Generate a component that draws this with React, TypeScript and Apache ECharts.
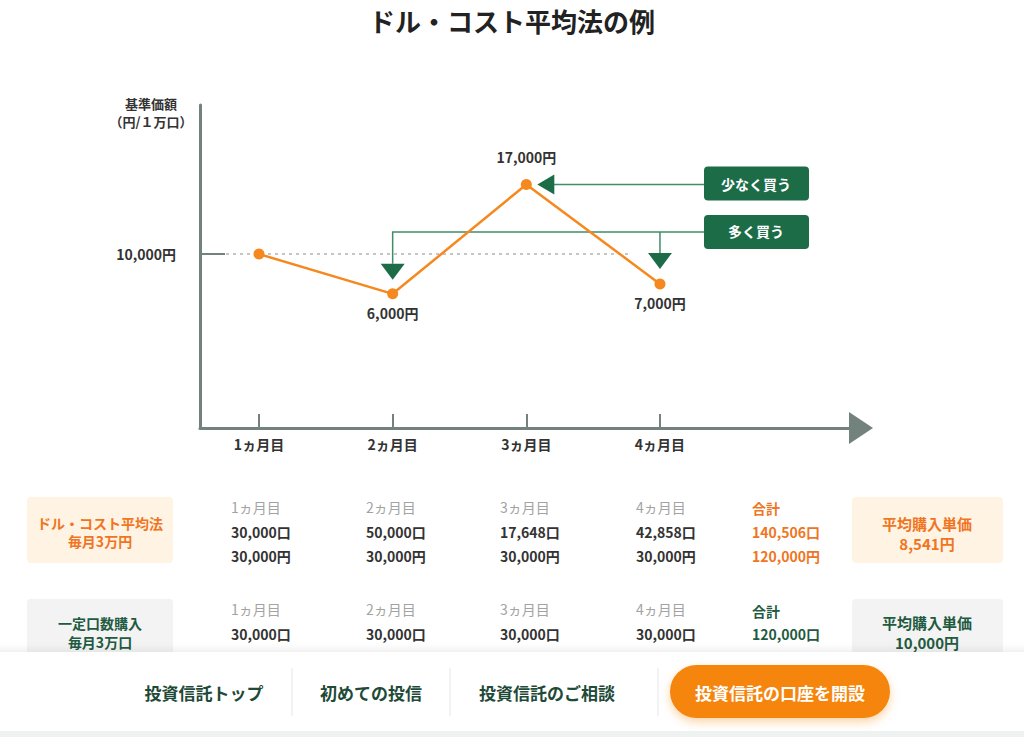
import React, { useEffect, useRef } from 'react';
import * as echarts from 'echarts';

// ---------- data ----------
const title = 'ドル・コスト平均法の例';
const yAxisName = ['基準価額', '（円/１万口）'];
const months = [1, 2, 3, 4];
const monthLabels = ['1ヵ月目', '2ヵ月目', '3ヵ月目', '4ヵ月目'];
const prices = [10000, 6000, 17000, 7000];
const priceLabelPos = ['none', 'bottom', 'top', 'bottom'];
const referencePrice = 10000;
const buyLess = '少なく買う';
const buyMore = '多く買う';

const dcaName = ['ドル・コスト平均法', '毎月3万円'];
const dcaUnits = [30000, 50000, 17648, 42858];
const dcaAmounts = [30000, 30000, 30000, 30000];
const dcaTotalUnits = 140506;
const dcaTotalAmount = 120000;
const dcaAvg = 8541;

const fixedName = ['一定口数購入', '毎月3万口'];
const fixedUnits = [30000, 30000, 30000, 30000];
const fixedTotalUnits = 120000;
const fixedAvg = 10000;

const totalLabel = '合計';
const avgLabel = '平均購入単価';
const navItems = ['投資信託トップ', '初めての投信', '投資信託のご相談'];
const navCta = '投資信託の口座を開設';

// ---------- styles ----------
const FONT = '"Noto Sans CJK JP", "Noto Sans", sans-serif';
const AXIS = '#73827d';
const ORANGE = '#f5891f';
const ORANGE_TXT = '#f07522';
const GREEN = '#1c6c48';
const GREEN_LINE = '#3f8c6b';
const GREEN_TXT = '#1f5a41';
const fmt = (n: number) => n.toLocaleString('en-US');

const txt = (x: number, y: number, text: string, o: any = {}) => ({
  type: 'text',
  x,
  y,
  z: o.z ?? 5,
  style: {
    text,
    fontFamily: FONT,
    fontSize: o.fontSize ?? 14,
    fontWeight: o.fontWeight ?? 'bold',
    fill: o.fill ?? '#333',
    align: o.align ?? 'left',
    textAlign: o.align ?? 'left',
    verticalAlign: 'middle',
    textVerticalAlign: 'middle',
  },
});

export default function App() {
  const ref = useRef<HTMLDivElement>(null);
  useEffect(() => {
    if (!ref.current) return;
    const chart = echarts.init(ref.current, null, { renderer: 'svg' });
    const option: any = {
      animation: false,
      backgroundColor: '#ffffff',
      textStyle: { fontFamily: FONT },
      title: {
        text: title,
        left: 'center',
        top: 2,
        textStyle: { fontSize: 26, fontWeight: 'bold', color: '#222', fontFamily: FONT },
      },
      grid: { left: 200, top: 105, width: 661, height: 323 },
      xAxis: {
        type: 'value',
        min: 0.5586,
        max: 5.504,
        axisLine: {
          onZero: false,
          lineStyle: { color: AXIS, width: 3 },
          symbol: ['none', 'triangle'],
          symbolSize: [32, 24],
        },
        axisTick: { customValues: months, inside: true, length: 14, lineStyle: { color: AXIS, width: 2 } },
        axisLabel: {
          customValues: months,
          formatter: (v: number) => monthLabels[Math.round(v) - 1],
          margin: 9,
          fontSize: 14,
          fontWeight: 'bold',
          color: '#333',
          fontFamily: FONT,
        },
        splitLine: { show: false },
      },
      yAxis: {
        type: 'value',
        min: -7500,
        max: 25000,
        axisLine: { show: true, onZero: false, lineStyle: { color: AXIS, width: 3 } },
        axisTick: { customValues: [referencePrice], inside: true, length: 25, lineStyle: { color: AXIS, width: 2 } },
        axisLabel: {
          customValues: [referencePrice],
          formatter: (v: number) => fmt(v) + '円',
          margin: 24,
          fontSize: 14,
          fontWeight: 'bold',
          color: '#333',
          fontFamily: FONT,
        },
        splitLine: { show: false },
      },
      series: [
        {
          type: 'line',
          z: 3,
          data: months.map((m, i) => ({
            value: [m, prices[i]],
            label:
              priceLabelPos[i] === 'none'
                ? { show: false }
                : { show: true, position: priceLabelPos[i], distance: priceLabelPos[i] === 'top' ? 15 : 7 },
          })),
          symbol: 'circle',
          symbolSize: 11,
          itemStyle: { color: ORANGE },
          lineStyle: { color: ORANGE, width: 2.5 },
          label: {
            formatter: (p: any) => fmt(p.value[1]) + '円',
            fontSize: 14,
            fontWeight: 'bold',
            color: '#333',
            fontFamily: FONT,
          },
        },
      ],
    };
    chart.setOption(option);

    const pt = (i: number) => chart.convertToPixel({ gridIndex: 0 }, [months[i], prices[i]]) as number[];
    const refY = (chart.convertToPixel({ gridIndex: 0 }, [months[0], referencePrice]) as number[])[1];
    const els: any[] = [];

    // y axis name
    els.push(txt(151, 103, yAxisName[0], { align: 'center', fontSize: 13 }));
    els.push(txt(151, 121, yAxisName[1], { align: 'center', fontSize: 13 }));

    // dotted reference line
    els.push({
      type: 'line',
      z: 1,
      shape: { x1: 226, y1: refY, x2: pt(3)[0] - 32, y2: refY },
      style: { stroke: '#b3b3b3', lineWidth: 1.5, lineDash: [3, 4] },
    });

    // buy-less annotation
    const p2 = pt(2);
    const boxX = 704;
    const tipX = p2[0] + 11;
    els.push({
      type: 'line', z: 1,
      shape: { x1: tipX + 16, y1: p2[1], x2: boxX, y2: p2[1] },
      style: { stroke: GREEN_LINE, lineWidth: 1.5 },
    });
    els.push({
      type: 'polygon', z: 1,
      shape: { points: [[tipX, p2[1]], [tipX + 17, p2[1] - 10], [tipX + 17, p2[1] + 10]] },
      style: { fill: GREEN },
    });
    els.push({
      type: 'rect', z: 4,
      shape: { x: boxX, y: p2[1] - 18, width: 105, height: 34, r: 4 },
      style: { fill: GREEN },
    });
    els.push(txt(boxX + 52, p2[1] - 1, buyLess, { align: 'center', fill: '#fff', fontSize: 14 }));

    // buy-more annotation
    const lineY = 232;
    const p1 = pt(1);
    const p3 = pt(3);
    els.push({
      type: 'polyline', z: 1,
      shape: { points: [[boxX, lineY], [p1[0], lineY], [p1[0], p1[1] - 30]] },
      style: { stroke: GREEN_LINE, lineWidth: 1.5, fill: null },
    });
    els.push({
      type: 'line', z: 1,
      shape: { x1: p3[0], y1: lineY, x2: p3[0], y2: p3[1] - 31 },
      style: { stroke: GREEN_LINE, lineWidth: 1.5 },
    });
    [p1, p3].forEach((p, k) => {
      const top = p[1] - (k === 0 ? 30 : 31);
      els.push({
        type: 'polygon', z: 1,
        shape: { points: [[p[0] - 12, top], [p[0] + 12, top], [p[0], top + 16]] },
        style: { fill: GREEN },
      });
    });
    els.push({
      type: 'rect', z: 4,
      shape: { x: boxX, y: lineY - 17, width: 105, height: 34, r: 4 },
      style: { fill: GREEN },
    });
    els.push(txt(boxX + 52, lineY - 1, buyMore, { align: 'center', fill: '#fff', fontSize: 14 }));

    // ---------- table ----------
    const colX = [231, 366, 500, 636];
    const totalX = 752;
    // row 1
    els.push({ type: 'rect', z: 2, shape: { x: 27, y: 497, width: 146, height: 66, r: 4 }, style: { fill: '#fff3e3' } });
    els.push(txt(100, 523, dcaName[0], { align: 'center', fill: ORANGE_TXT, fontSize: 14 }));
    els.push(txt(100, 541, dcaName[1], { align: 'center', fill: ORANGE_TXT, fontSize: 14 }));
    monthLabels.forEach((m, i) => {
      els.push(txt(colX[i], 507, m, { fill: '#a3a3a3', fontWeight: 'normal', fontSize: 14 }));
      els.push(txt(colX[i], 532, fmt(dcaUnits[i]) + '口', { fontSize: 14 }));
      els.push(txt(colX[i], 556, fmt(dcaAmounts[i]) + '円', { fontSize: 14 }));
    });
    els.push(txt(totalX, 508, totalLabel, { fill: ORANGE_TXT, fontSize: 14 }));
    els.push(txt(totalX, 532, fmt(dcaTotalUnits) + '口', { fill: ORANGE_TXT, fontSize: 14 }));
    els.push(txt(totalX, 556, fmt(dcaTotalAmount) + '円', { fill: ORANGE_TXT, fontSize: 14 }));
    els.push({ type: 'rect', z: 2, shape: { x: 852, y: 497, width: 151, height: 66, r: 4 }, style: { fill: '#fff3e3' } });
    els.push(txt(927, 523, avgLabel, { align: 'center', fill: ORANGE_TXT, fontSize: 15 }));
    els.push(txt(927, 543, fmt(dcaAvg) + '円', { align: 'center', fill: ORANGE_TXT, fontSize: 15 }));

    // row 2
    els.push({ type: 'rect', z: 2, shape: { x: 27, y: 599, width: 146, height: 66, r: 4 }, style: { fill: '#f2f3f2' } });
    els.push(txt(100, 623, fixedName[0], { align: 'center', fill: GREEN_TXT, fontSize: 14 }));
    els.push(txt(100, 642, fixedName[1], { align: 'center', fill: GREEN_TXT, fontSize: 14 }));
    monthLabels.forEach((m, i) => {
      els.push(txt(colX[i], 609, m, { fill: '#a3a3a3', fontWeight: 'normal', fontSize: 14 }));
      els.push(txt(colX[i], 634, fmt(fixedUnits[i]) + '口', { fontSize: 14 }));
    });
    els.push(txt(totalX, 611, totalLabel, { fill: GREEN_TXT, fontSize: 14 }));
    els.push(txt(totalX, 634, fmt(fixedTotalUnits) + '口', { fill: GREEN_TXT, fontSize: 14 }));
    els.push({ type: 'rect', z: 2, shape: { x: 852, y: 599, width: 151, height: 66, r: 4 }, style: { fill: '#f2f3f2' } });
    els.push(txt(927, 622, avgLabel, { align: 'center', fill: GREEN_TXT, fontSize: 15 }));
    els.push(txt(927, 642, fmt(fixedAvg) + '円', { align: 'center', fill: GREEN_TXT, fontSize: 15 }));

    // ---------- bottom nav ----------
    els.push({
      type: 'rect', z: 10,
      shape: { x: -10, y: 652, width: 1044, height: 80 },
      style: { fill: '#ffffff', shadowBlur: 8, shadowColor: 'rgba(0,0,0,0.08)', shadowOffsetY: -2 },
    });
    els.push({ type: 'rect', z: 11, shape: { x: 0, y: 731, width: 1024, height: 6 }, style: { fill: '#eef2f0' } });
    const navX = [204, 371, 547];
    navItems.forEach((t, i) => {
      els.push(txt(navX[i], 692, t, { align: 'center', fill: '#1e4a37', fontSize: 17, z: 12 }));
    });
    [292, 450, 658].forEach((x) => {
      els.push({ type: 'line', z: 12, shape: { x1: x, y1: 668, x2: x, y2: 716 }, style: { stroke: '#e4e6e5', lineWidth: 1 } });
    });
    els.push({
      type: 'rect', z: 12,
      shape: { x: 670, y: 665, width: 220, height: 53, r: 26.5 },
      style: { fill: '#f5850f', shadowBlur: 10, shadowColor: 'rgba(245,133,15,0.35)', shadowOffsetY: 4 },
    });
    els.push(txt(780, 692, navCta, { align: 'center', fill: '#fff', fontSize: 17, z: 13 }));

    chart.setOption({ graphic: { elements: els } });
    return () => chart.dispose();
  }, []);
  return <div ref={ref} style={{ position: 'absolute', left: 0, top: 0, width: 1024, height: 737 }} />;
}
